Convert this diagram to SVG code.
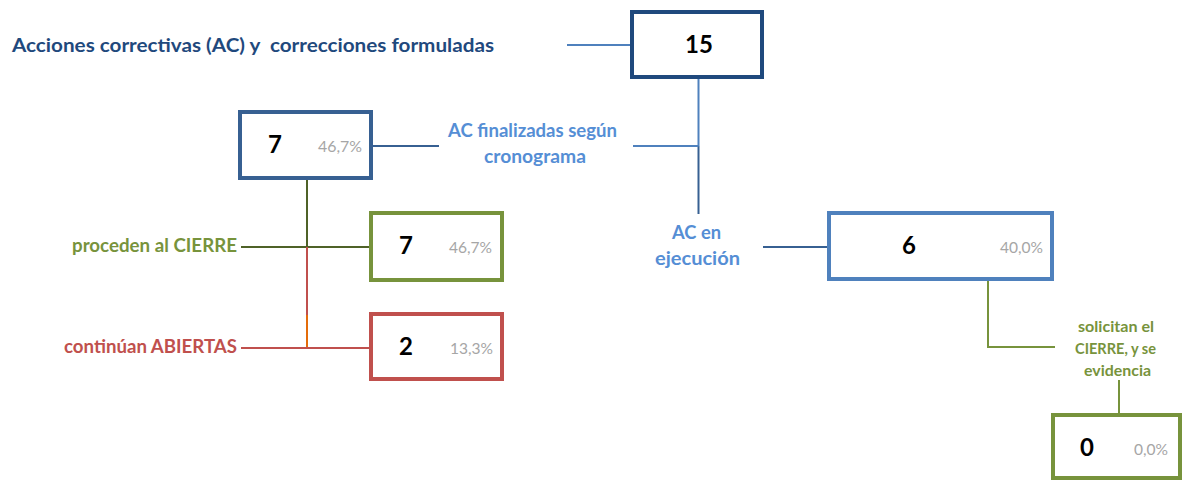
<svg xmlns="http://www.w3.org/2000/svg" width="1183" height="481" viewBox="0 0 1183 481">
<style>
text{font-family:Lato,"Liberation Sans",sans-serif;}
.box{fill:#fff;stroke-width:4;}
.num{font-weight:bold;font-size:24px;fill:#000;text-anchor:middle;}
.pct{font-size:15px;fill:#A6A6A6;text-anchor:end;}
.lbl{font-weight:bold;font-size:18px;}
.sm{font-weight:bold;font-size:15px;}
.ln{fill:none;stroke-width:2;}
</style>
<rect width="1183" height="481" fill="#fff"/>
<g id="connectors">
<line class="ln" x1="567" y1="45" x2="631" y2="45" stroke="#4F81BD"/>
<line class="ln" x1="698.5" y1="79" x2="698.5" y2="146" stroke="#4F81BD"/>
<line class="ln" x1="698.5" y1="146" x2="698.5" y2="214" stroke="#376092"/>
<line class="ln" x1="633" y1="146" x2="698.5" y2="146" stroke="#4F81BD"/>
<line class="ln" x1="373" y1="146" x2="439" y2="146" stroke="#376092"/>
<line class="ln" x1="307" y1="180" x2="307" y2="247" stroke="#4F6228"/>
<line class="ln" x1="241" y1="247" x2="370" y2="247" stroke="#4F6228"/>
<line class="ln" x1="307" y1="247" x2="307" y2="315" stroke="#C0504D"/>
<line class="ln" x1="307" y1="315" x2="307" y2="348" stroke="#E46C0A"/>
<line class="ln" x1="241" y1="348" x2="370" y2="348" stroke="#C0504D"/>
<line class="ln" x1="763" y1="247" x2="828" y2="247" stroke="#376092"/>
<polyline class="ln" points="988,281 988,347 1055,347" stroke="#77933C"/>
<line class="ln" x1="1119" y1="380" x2="1119" y2="414" stroke="#77933C"/>
</g>
<g id="title">
<text x="12" y="52" font-weight="bold" font-size="18.5" fill="#1F497D" textLength="482" lengthAdjust="spacingAndGlyphs" xml:space="preserve">Acciones correctivas (AC) y  correcciones formuladas</text>
</g>
<g id="node-15">
<rect class="box" x="632" y="12" width="130" height="65" stroke="#1F497D"/>
<text class="num" x="699" y="53">15</text>
</g>
<g id="node-finalizadas">
<rect class="box" x="240" y="112" width="131" height="66" stroke="#376092"/>
<text class="num" x="275" y="153">7</text>
<text class="pct" x="362" y="152" textLength="44" lengthAdjust="spacingAndGlyphs">46,7%</text>
</g>
<g id="label-finalizadas" class="lbl" fill="#558ED5" text-anchor="middle">
<text x="532.5" y="137" textLength="169" lengthAdjust="spacingAndGlyphs">AC finalizadas según</text>
<text x="535" y="163" textLength="102" lengthAdjust="spacingAndGlyphs">cronograma</text>
</g>
<g id="node-cierre">
<rect class="box" x="371" y="213" width="131" height="67" stroke="#77933C"/>
<text class="num" x="406" y="254">7</text>
<text class="pct" x="492" y="253" textLength="43" lengthAdjust="spacingAndGlyphs">46,7%</text>
</g>
<g id="label-cierre">
<text class="lbl" x="237" y="252" text-anchor="end" fill="#77933C" textLength="165" lengthAdjust="spacingAndGlyphs">proceden al CIERRE</text>
</g>
<g id="node-abiertas">
<rect class="box" x="371" y="314" width="131" height="65" stroke="#C0504D"/>
<text class="num" x="406" y="355">2</text>
<text class="pct" x="493" y="354" textLength="43" lengthAdjust="spacingAndGlyphs">13,3%</text>
</g>
<g id="label-abiertas">
<text class="lbl" x="237" y="353" text-anchor="end" fill="#C0504D" textLength="173" lengthAdjust="spacingAndGlyphs">continúan ABIERTAS</text>
</g>
<g id="label-ejecucion" class="lbl" fill="#558ED5" text-anchor="middle">
<text x="696.5" y="239" textLength="49" lengthAdjust="spacingAndGlyphs">AC en</text>
<text x="697.5" y="265" textLength="85" lengthAdjust="spacingAndGlyphs">ejecución</text>
</g>
<g id="node-ejecucion">
<rect class="box" x="829" y="213" width="223" height="66" stroke="#4F81BD"/>
<text class="num" x="909" y="254">6</text>
<text class="pct" x="1043" y="253" textLength="43" lengthAdjust="spacingAndGlyphs">40,0%</text>
</g>
<g id="label-solicitan" class="sm" fill="#77933C" text-anchor="middle">
<text x="1116" y="332" textLength="76" lengthAdjust="spacingAndGlyphs">solicitan el</text>
<text x="1115.5" y="354" textLength="81" lengthAdjust="spacingAndGlyphs">CIERRE, y se</text>
<text x="1117.5" y="376" textLength="67" lengthAdjust="spacingAndGlyphs">evidencia</text>
</g>
<g id="node-evidencia">
<rect class="box" x="1053" y="415" width="127" height="63" stroke="#77933C"/>
<text class="num" x="1087" y="456">0</text>
<text class="pct" x="1168" y="455" textLength="34" lengthAdjust="spacingAndGlyphs">0,0%</text>
</g>
</svg>
